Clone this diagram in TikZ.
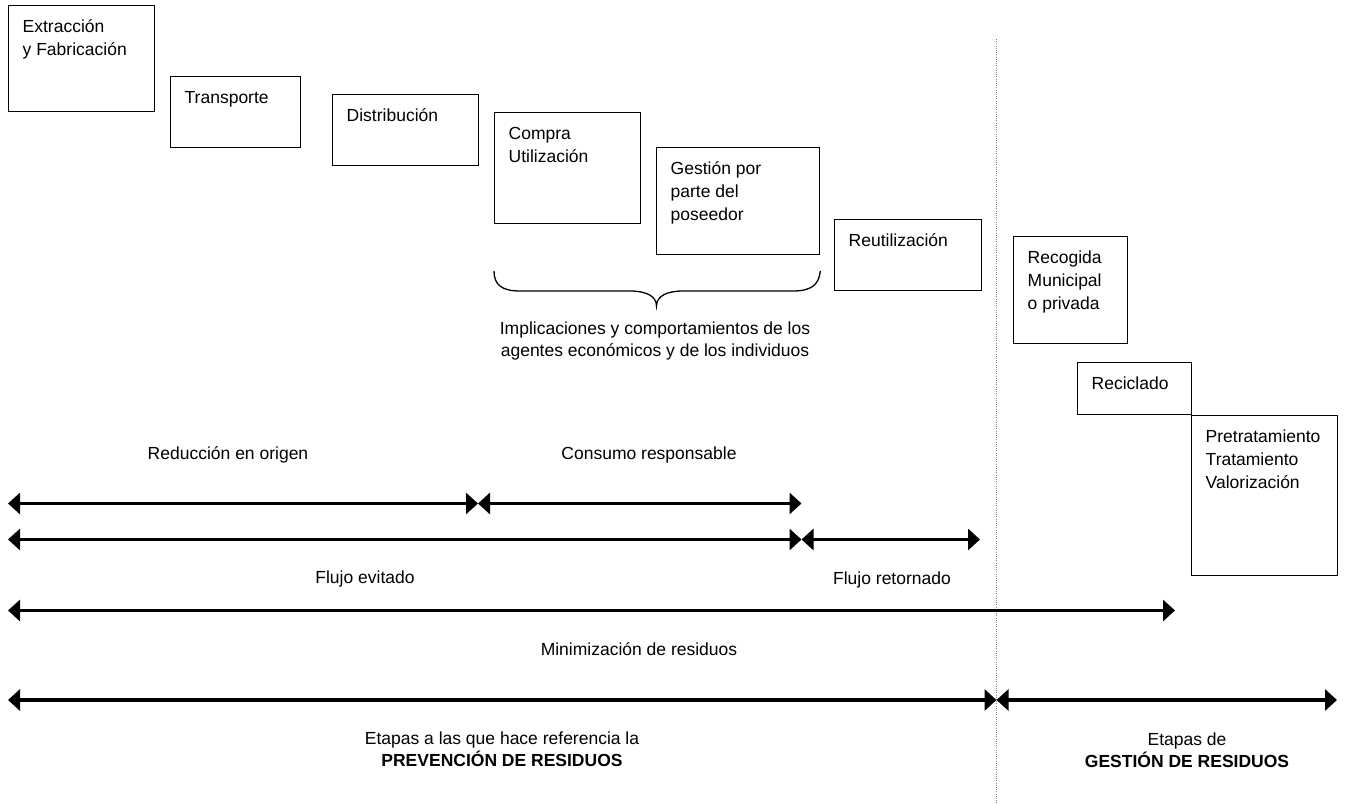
\documentclass[tikz,border=0pt]{standalone}
\usepackage{fontspec}
\setmainfont{Liberation Sans}
\usetikzlibrary{arrows.meta,calc}

% A stage box: name, x, y (top-left corner), width, height, text
\newcommand\stagebox[6]{%
  \node[stage, minimum width=#4pt, minimum height=#5pt] (#1) at (#2,#3) {};
  \node[stagetext] (#1-t) at ($(#1.north west)+(14.5,10)$) {\rule{0pt}{17pt}#6};}

\begin{document}
\begin{tikzpicture}[x=1pt,y=-1pt,
  stage/.style={draw, line width=1.3pt, inner sep=0pt, anchor=north west},
  stagetext/.style={anchor=north west, inner sep=0pt, align=left,
    font=\fontsize{17.5}{23}\selectfont},
  lbl/.style={inner sep=0pt, align=center, font=\fontsize{17.5}{22}\selectfont},
  span/.style={line width=3.4pt,
    {Triangle[length=12pt,width=21pt]}-{Triangle[length=12pt,width=21pt]}},
  divider/.style={gray, line width=1pt, dash pattern=on 1pt off 1.2pt},
  bracest/.style={line width=1.3pt}]
\useasboundingbox (0,0) rectangle (1345,805);

% stages of the product life cycle
\stagebox{ext}{8}{5}{146}{106}{Extracción\\y Fabricación}
\stagebox{tra}{170}{76}{130}{71}{Transporte}
\stagebox{dis}{332}{94}{146}{71}{Distribución}
\stagebox{com}{494}{112}{146}{111}{Compra\\Utilización}
\stagebox{ges}{656}{147}{163}{107}{Gestión por\\parte del\\poseedor}
\stagebox{reu}{834}{219}{147}{71}{Reutilización}
\stagebox{rec}{1013}{236}{114}{107}{Recogida\\Municipal\\o privada}
\stagebox{rcl}{1077}{362}{114}{52}{Reciclado}
\stagebox{pre}{1191}{415}{146}{160}{Pretratamiento\\Tratamiento\\Valorización}

% boundary between prevention and management
\coordinate (dtop) at (996.5,39);
\coordinate (dbot) at (996.5,805);
\draw[divider] (dtop) -- (dbot);

% brace under purchase / holder management
\draw[bracest] (com.south west |- 0,271) .. controls (494,285) and (502,291) .. (520,291)
  -- (630,291) .. controls (646,291) and (656.5,296) .. (656.5,306)
  .. controls (656.5,296) and (667,291) .. (683,291)
  -- (793,291) .. controls (811,291) and (819,285) .. (ges.south east |- 0,271);
\node[lbl] (impl) at (655,341) {Implicaciones y comportamientos de los\\agentes económicos y de los individuos};

% span arrows
\coordinate (r1l) at (8,503.5);
\coordinate (r1m) at (478,503.5);
\coordinate (r1r) at (801.5,503.5);
\coordinate (r2l) at (8,539.5);
\coordinate (r2m) at (801.5,539.5);
\coordinate (r2r) at (980,539.5);
\coordinate (r3l) at (8,610.5);
\coordinate (r3r) at (1175,610.5);
\coordinate (r4l) at (8,700);
\coordinate (r4m) at (996.5,700);
\coordinate (r4r) at (1337,700);

\draw[span] (r1l) -- (r1m);
\draw[span] (r1m) -- (r1r);
\draw[span] (r2l) -- (r2m);
\draw[span] (r2m) -- (r2r);
\draw[span] (r3l) -- (r3r);
\draw[span] (r4l) -- (r4m);
\draw[span] (r4m) -- (r4r);

% span labels
\node[lbl, anchor=base] (red) at (228,459) {Reducción en origen};
\node[lbl, anchor=base] (cons) at (649,459) {Consumo responsable};
\node[lbl, anchor=base] (fev) at (365,583) {Flujo evitado};
\node[lbl, anchor=base] (fret) at (892,584) {Flujo retornado};
\node[lbl, anchor=base] (mini) at (639,655) {Minimización de residuos};
\node[lbl] (prev) at (502,749) {Etapas a las que hace referencia la\\\textbf{PREVENCIÓN DE RESIDUOS}};
\node[lbl] (gest) at (1187,750.5) {Etapas de\\\textbf{GESTIÓN DE RESIDUOS}};
\end{tikzpicture}
\end{document}
